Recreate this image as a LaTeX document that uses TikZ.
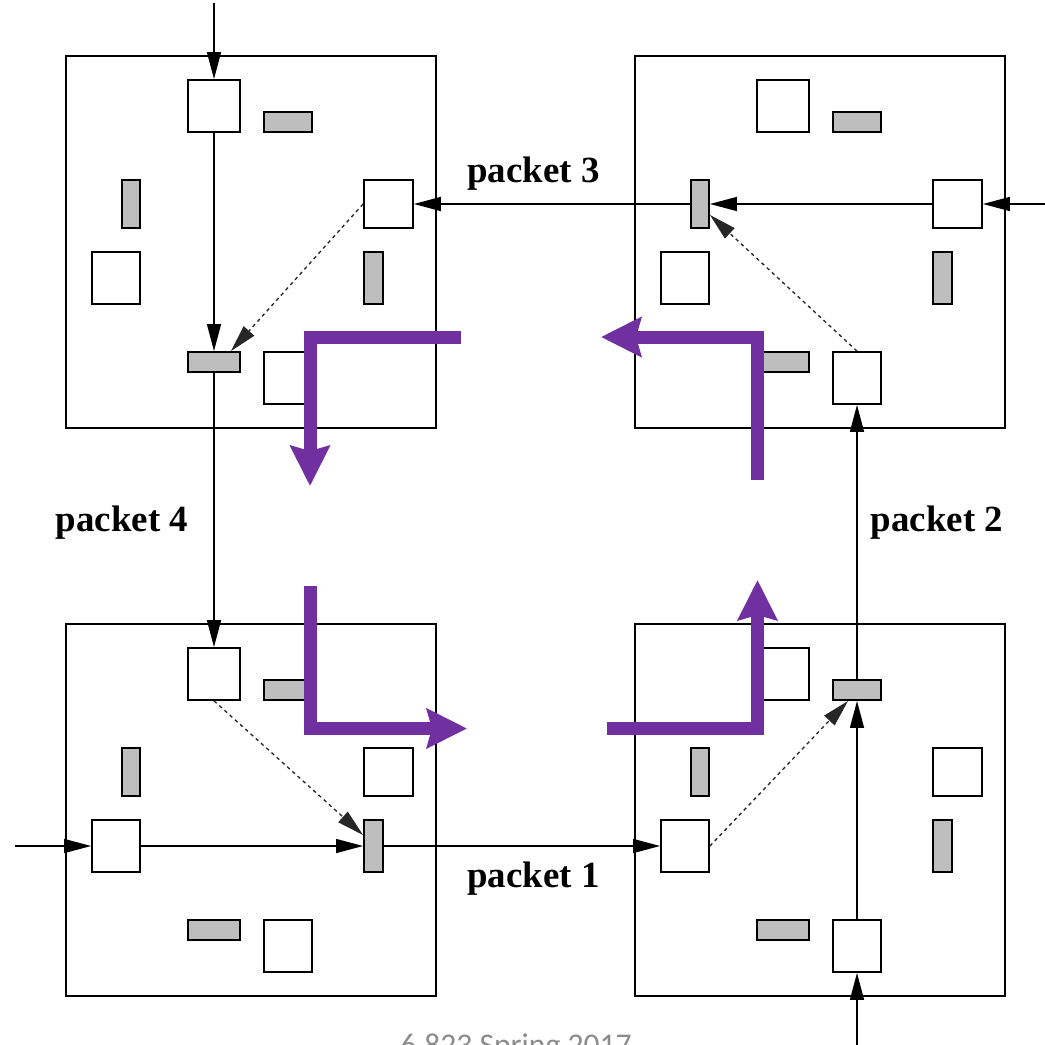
\documentclass[tikz,border=0pt]{standalone}
\usepackage{fontspec}
\setmainfont{Liberation Serif}
\newfontfamily\footfont{Carlito}
\usetikzlibrary{arrows.meta}
\definecolor{bargray}{RGB}{190,190,190}
\definecolor{nocpurple}{RGB}{112,48,160}
\definecolor{footgray}{RGB}{140,140,140}

\newcommand\mkrouter[3]{%
 \begin{scope}[shift={(#2,#3)}]
  \node[rbox] (#1box) at (185,186) {};
  \node[sqbox, minimum width=1.04cm, minimum height=1.04cm] (#1nin)  at (148,50) {};
  \node[barbox, minimum width=0.96cm, minimum height=0.40cm] (#1nout) at (222,66) {};
  \node[barbox, minimum width=0.36cm, minimum height=0.96cm] (#1wout) at (65,148) {};
  \node[sqbox, minimum width=0.96cm, minimum height=1.04cm] (#1win)  at (50,222) {};
  \node[sqbox, minimum width=0.98cm, minimum height=0.96cm] (#1ein)  at (322.5,148) {};
  \node[barbox, minimum width=0.38cm, minimum height=1.04cm] (#1eout) at (307.5,222) {};
  \node[barbox, minimum width=1.04cm, minimum height=0.40cm] (#1sout) at (148,306) {};
  \node[sqbox, minimum width=0.96cm, minimum height=1.04cm] (#1sin)  at (222,322) {};
 \end{scope}}

\begin{document}
\begin{tikzpicture}[x=0.02cm, y=-0.02cm,
  rbox/.style={draw, minimum width=7.4cm, minimum height=7.44cm, inner sep=0pt, line width=0.9pt},
  sqbox/.style={draw, fill=white, inner sep=0pt, line width=1pt},
  barbox/.style={draw, fill=bargray, inner sep=0pt, line width=1.1pt},
  arr/.style={line width=0.8pt, -{Triangle[length=0.54cm, width=0.28cm]}},
  darr/.style={line width=0.75pt, black!85, dash pattern=on 2pt off 2pt, -{Triangle[length=0.54cm, width=0.28cm]}},
  parr/.style={line width=0.26cm, nocpurple, line join=miter, -{Stealth[length=0.8cm, width=0.78cm, inset=0.1cm]}},
  lbl/.style={font=\bfseries\fontsize{21}{24}\selectfont, inner sep=0pt, anchor=base},
  foot/.style={font=\footfont\fontsize{18}{20}\selectfont, text=footgray, inner sep=0pt, anchor=base}]
\useasboundingbox[fill=white] (0,0) rectangle (1045,1045);

\mkrouter{TL}{66}{56}
\mkrouter{TR}{635}{56}
\mkrouter{BL}{66}{624}
\mkrouter{BR}{635}{624}

% external inputs
\coordinate (topin) at (214,3);
\coordinate (rightin) at (1045,204);
\coordinate (leftin) at (15,846);
\coordinate (botin) at (857,1045);

% top-left router
\draw[arr] (topin) -- (TLnin.north);
\draw[arr] (TLnin.south) -- (TLsout.north);
\draw[darr] (TLein.west) -- ([xshift=-0.2cm]TLsout.north east);
\draw[arr] (TLsout.south) -- (BLnin.north);

% top-right router
\draw[arr] (rightin) -- (TRein.east);
\draw[arr] (TRein.west) -- (TRwout.east);
\draw[darr] (TRsin.north) -- ([yshift=-0.22cm]TRwout.east);
\draw[arr] (TRwout.west) -- (TLein.east);

% bottom-left router
\draw[arr] (leftin) -- (BLwin.west);
\draw[arr] (BLwin.east) -- (BLeout.west);
\draw[darr] (BLnin.south) -- ([yshift=0.22cm]BLeout.west);
\draw[arr] (BLeout.east) -- (BRwin.west);

% bottom-right router
\draw[darr] (BRwin.east) -- ([xshift=-0.18cm]BRnout.south);
\draw[arr] (botin) -- (BRsin.south);
\draw[arr] (BRsin.north) -- (BRnout.south);
\draw[arr] (BRnout.north) -- (TRsin.south);

% labels
\node[lbl] (lab3) at (533.5,182) {packet 3};
\node[lbl] (lab4) at (122,531) {packet 4};
\node[lbl] (lab2) at (937,531) {packet 2};
\node[lbl] (lab1) at (533.5,887) {packet 1};

% purple turn arrows
\coordinate (pa1) at (461,337);
\coordinate (pa2) at (310,337);
\coordinate (pa3) at (310,486);
\draw[parr] (pa1) -- (pa2) -- (pa3);
\coordinate (pb1) at (757.5,480);
\coordinate (pb2) at (757.5,337);
\coordinate (pb3) at (601,337);
\draw[parr] (pb1) -- (pb2) -- (pb3);
\coordinate (pc1) at (310,586);
\coordinate (pc2) at (310,728.5);
\coordinate (pc3) at (467,728.5);
\draw[parr] (pc1) -- (pc2) -- (pc3);
\coordinate (pd1) at (607,728.5);
\coordinate (pd2) at (757.5,728.5);
\coordinate (pd3) at (757.5,580);
\draw[parr] (pd1) -- (pd2) -- (pd3);

% footer (cut by the page edge)
\node[foot] (footer) at (516,1055) {6.823 Spring 2017};
\end{tikzpicture}
\end{document}
